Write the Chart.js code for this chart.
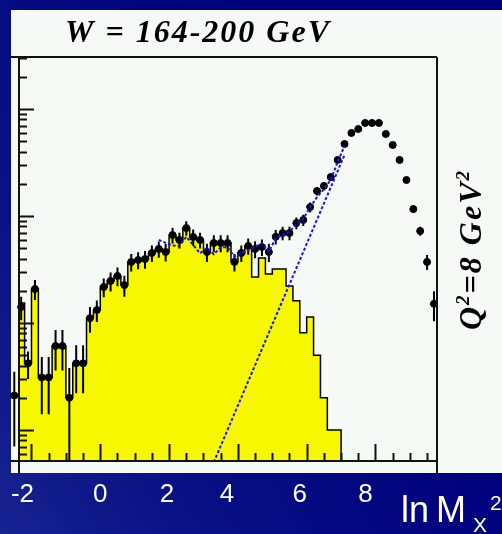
<!DOCTYPE html>
<html>
<head>
<meta charset="utf-8">
<title>W = 164-200 GeV</title>
<script src="https://cdn.jsdelivr.net/npm/chart.js@4.4.1/dist/chart.umd.min.js"></script>
<style>
    html, body { margin: 0; padding: 0; background: #000080; }
    canvas { display: block; }
</style>
</head>
<body>
<canvas id="mxChart" width="502" height="534"></canvas>
<script>
// Yellow histogram (MC), bin centres in ln Mx^2, bins 0.2 wide
const histCentres = [-2.3, -2.1, -1.9, -1.7, -1.5, -1.3, -1.1, -0.9, -0.7, -0.5, -0.3, -0.1,
    0.1, 0.3, 0.5, 0.7, 0.9, 1.1, 1.3, 1.5, 1.7, 1.9, 2.1, 2.3,
    2.5, 2.7, 2.9, 3.1, 3.3, 3.5, 3.7, 3.9, 4.1, 4.3, 4.5, 4.7,
    4.9, 5.1, 5.3, 5.5, 5.7, 5.9, 6.1, 6.3, 6.5, 6.7, 6.9];
const histValues = [15.4, 4.2, 20.8, 3.1, 3.1, 6.1, 6.1, 2.0, 4.2, 4.2, 11.1, 13.2,
    21.7, 24.7, 27.5, 22.6, 37.2, 38.8, 39.6, 45.1, 49.2, 46.1, 66.4, 59.7,
    77.2, 63.6, 59.7, 46.1, 55.9, 55.9, 55.9, 37.2, 45.1, 52.5, 26.9, 40.5,
    28.7, 32.0, 32.0, 22.2, 16.1, 8.1, 11.4, 5.0, 2.0, 1.0, 1.0];

// Data points with errors
const dataX = [-2.5, -2.3, -2.1, -1.9, -1.7, -1.5, -1.3, -1.1, -0.9, -0.7, -0.5, -0.3, -0.1,
    0.1, 0.3, 0.5, 0.7, 0.9, 1.1, 1.3, 1.5, 1.7, 1.9, 2.1, 2.3,
    2.5, 2.7, 2.9, 3.1, 3.3, 3.5, 3.7, 3.9, 4.1, 4.3, 4.5, 4.7,
    4.9, 5.1, 5.3, 5.5, 5.7, 5.9, 6.1, 6.3, 6.5, 6.7, 6.9, 7.1,
    7.3, 7.5, 7.7, 7.9, 8.1, 8.3, 8.5, 8.7, 8.9, 9.1, 9.3, 9.5, 9.7];
const dataY = [2.1, 14.1, 4.2, 20.8, 3.1, 3.1, 6.1, 6.1, 2.0, 4.2, 4.2, 11.1, 13.2,
    21.7, 24.7, 27.5, 22.6, 37.2, 38.8, 39.6, 45.1, 49.2, 46.1, 66.4, 59.7,
    77.2, 63.6, 59.7, 46.1, 55.9, 55.9, 55.9, 37.2, 45.1, 52.5, 49.2, 51.3,
    46.1, 64, 69.3, 69.3, 86, 91.8, 121, 171, 191, 231, 334, 471,
    597, 650, 740, 740, 740, 584, 461, 334, 217, 116, 72.4, 37.2, 15.1];
const dataErr = [1.4, 3.5, 1.2, 4.4, 1.7, 1.7, 2.5, 2.5, 1.8, 2.0, 2.0, 3.0, 3.0,
    4.3, 5, 5.5, 5, 7, 7, 7.5, 8, 8.5, 8.5, 11, 10,
    12, 11, 10, 9, 10, 10, 10, 7, 8, 9, 9, 9,
    9, 10, 10, 10, 11, 11, 13, 16, 17, 19, 22, 25,
    25, 25, 25, 25, 25, 22, 20, 16, 13, 9, 7, 6, 4.7];

// Blue dashed fit curve
const fitX = [1.7, 1.9, 2.1, 2.3, 2.5, 2.7, 2.9, 3.1, 3.3, 3.5, 3.7, 3.9, 4.1, 4.3,
    4.5, 4.7, 4.9, 5.1, 5.3, 5.5, 5.7, 5.9, 6.1, 6.3, 6.5, 6.7, 6.9, 7.1];
const fitY = [59.7, 56, 53, 52.5, 64, 53.6, 44.8, 50.2, 43.8, 51, 51, 41.7, 44.8, 48.1,
    51.6, 55.6, 46.3, 61.9, 66, 71.3, 84, 94, 121, 150, 178, 218, 320, 451];

// Blue dashed straight (exponential) line
const lineX = [3.3, 7.1];
const lineY = [0.5, 372];

// Texts
const xTickValues = [-2, 0, 2, 4, 6, 8];
const xTickLabels = ['-2', '0', '2', '4', '6', '8'];
const titleText = 'W = 164-200 GeV';

const binHalf = 0.1;
const xMin = -2.363, xMax = 9.788;
const yMin = 0.513, yMax = 3060;

const histPoints = histCentres.map((c, i) => ({ x: c - binHalf, y: histValues[i] }));
const histEnd = histCentres[histCentres.length - 1] + binHalf;
histPoints.push({ x: histEnd, y: histValues[histValues.length - 1] });
histPoints.push({ x: histEnd, y: 0.3 });

const slide = {
    id: 'slide',
    beforeDraw(chart) {
        const ctx = chart.ctx;
        ctx.save();
        const g = ctx.createLinearGradient(0, 534, 420, 300);
        g.addColorStop(0, '#16238f');
        g.addColorStop(0.4, '#070f84');
        g.addColorStop(1, '#00007c');
        ctx.fillStyle = g;
        ctx.fillRect(0, 0, 502, 534);
        ctx.fillStyle = '#f6faf6';
        ctx.fillRect(11, 10, 491, 463);
        ctx.restore();
    }
};

const errorBars = {
    id: 'errorBars',
    afterDatasetDraw(chart, args) {
        if (args.index !== 1) return;
        const { ctx, chartArea, scales: { x, y } } = chart;
        ctx.save();
        ctx.strokeStyle = '#000';
        ctx.lineWidth = 2;
        dataX.forEach((v, i) => {
            const px = x.getPixelForValue(v);
            const py = y.getPixelForValue(dataY[i]);
            const lo = Math.min(y.getPixelForValue(Math.max(dataY[i] - dataErr[i], 0.3)), chartArea.bottom);
            const hi = y.getPixelForValue(dataY[i] + dataErr[i]);
            ctx.beginPath();
            ctx.moveTo(px, lo);
            ctx.lineTo(px, hi);
            ctx.moveTo(x.getPixelForValue(v - binHalf), py);
            ctx.lineTo(x.getPixelForValue(v + binHalf), py);
            ctx.stroke();
        });
        ctx.restore();
    }
};

function drawRuns(ctx, runs, x, y, family, spacing) {
    let cx = x;
    runs.forEach(r => {
        ctx.font = 'italic bold ' + r.size + 'px ' + family;
        ctx.fillText(r.text, cx, y - (r.rise || 0));
        cx += ctx.measureText(r.text).width + spacing;
    });
}

const frame = {
    id: 'frame',
    afterDatasetsDraw(chart) {
        const { ctx, chartArea: a, scales: { x, y } } = chart;
        ctx.save();
        ctx.strokeStyle = '#111';
        ctx.lineWidth = 2;
        ctx.beginPath();
        // bottom axis ticks every 0.5, long ones every 2
        for (let k = -4; k <= 19; k++) {
            const v = k / 2;
            const px = Math.round(x.getPixelForValue(v)) + 0.5;
            const len = (k % 4 === 0) ? 17 : 8;
            ctx.moveTo(px, a.bottom);
            ctx.lineTo(px, a.bottom - len);
        }
        // left axis log ticks
        for (let e = -1; e <= 3; e++) {
            for (let m = 1; m <= 9; m++) {
                const v = m * Math.pow(10, e);
                if (v < yMin || v > yMax) continue;
                const py = Math.round(y.getPixelForValue(v)) + 0.5;
                ctx.moveTo(a.left, py);
                ctx.lineTo(a.left + (m === 1 ? 15 : 8), py);
            }
        }
        ctx.stroke();
        // box
        ctx.beginPath();
        ctx.moveTo(11, a.top);
        ctx.lineTo(a.right, a.top);
        ctx.moveTo(11, a.bottom);
        ctx.lineTo(a.right, a.bottom);
        ctx.moveTo(a.left, a.top);
        ctx.lineTo(a.left, 473);
        ctx.moveTo(a.right, a.top);
        ctx.lineTo(a.right, 473);
        ctx.stroke();
        ctx.restore();
    },
    afterDraw(chart) {
        const { ctx, scales: { x } } = chart;
        ctx.save();
        ctx.fillStyle = '#000';
        ctx.textBaseline = 'alphabetic';
        ctx.textAlign = 'left';
        // title
        ctx.letterSpacing = '2px';
        ctx.font = 'italic bold 32px "Liberation Serif"';
        ctx.fillText(titleText, 65, 42);
        // rotated Q^2 label
        ctx.letterSpacing = '2px';
        ctx.translate(481, 251);
        ctx.rotate(-Math.PI / 2);
        drawRuns(ctx, [
            { text: 'Q', size: 32 },
            { text: '2', size: 19, rise: 12 },
            { text: '=8 GeV', size: 32 },
            { text: '2', size: 19, rise: 12 }
        ], -79, 0, '"Liberation Serif"', 0);
        ctx.setTransform(1, 0, 0, 1, 0, 0);
        ctx.letterSpacing = '0px';
        // x tick labels on the slide background
        const nudge = [-9, 0, -2, -11, -7, -10];
        ctx.fillStyle = '#ffffff';
        ctx.textAlign = 'center';
        ctx.font = '26px "Liberation Sans"';
        xTickValues.forEach((v, i) => {
            ctx.fillText(xTickLabels[i], x.getPixelForValue(v) + nudge[i], 502);
        });
        // axis title ln Mx^2
        ctx.textAlign = 'left';
        ctx.font = '36px "Liberation Sans"';
        ctx.fillText('ln', 401, 522);
        ctx.fillText('M', 436, 522);
        ctx.font = '21px "Liberation Sans"';
        ctx.fillText('X', 473, 532);
        ctx.fillText('2', 490, 510);
        ctx.restore();
    }
};

const config = {
    type: 'line',
    data: {
        datasets: [
            {
                label: 'fit',
                data: fitX.map((v, i) => ({ x: v, y: fitY[i] })),
                borderColor: '#1414ff',
                borderWidth: 2,
                borderDash: [3, 2],
                pointRadius: 0,
                fill: false,
                order: 1
            },
            {
                label: 'data',
                data: dataX.map((v, i) => ({ x: v, y: dataY[i] })),
                showLine: false,
                pointRadius: 3.5,
                pointBackgroundColor: '#000',
                pointBorderColor: '#000',
                clip: 10,
                order: 2
            },
            {
                label: 'exponential',
                data: lineX.map((v, i) => ({ x: v, y: lineY[i] })),
                borderColor: '#1414ff',
                borderWidth: 2,
                borderDash: [3, 2],
                pointRadius: 0,
                fill: false,
                order: 1
            },
            {
                label: 'MC',
                data: histPoints,
                stepped: 'before',
                borderColor: '#000',
                borderWidth: 1.5,
                backgroundColor: '#f7f700',
                fill: 'start',
                pointRadius: 0,
                order: 4
            }
        ]
    },
    options: {
        responsive: false,
        animation: false,
        layout: { padding: { left: 19, top: 57, right: 65, bottom: 73 } },
        plugins: {
            legend: { display: false },
            tooltip: { enabled: false }
        },
        scales: {
            x: { type: 'linear', display: false, min: xMin, max: xMax },
            y: { type: 'logarithmic', display: false, min: yMin, max: yMax }
        }
    },
    plugins: [slide, errorBars, frame]
};

new Chart(document.getElementById('mxChart'), config);
</script>
</body>
</html>
